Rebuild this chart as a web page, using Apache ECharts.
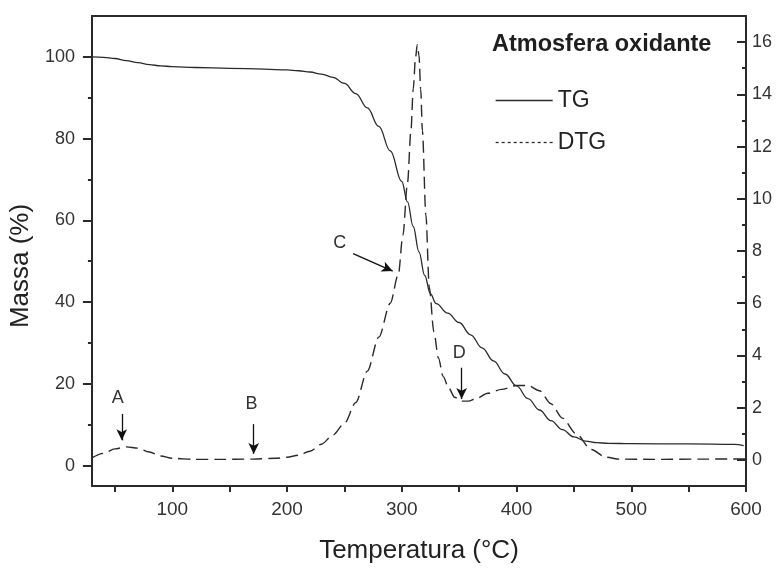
<!DOCTYPE html>
<html>
<head>
<meta charset="utf-8">
<script src="https://cdn.jsdelivr.net/npm/echarts@6/dist/echarts.min.js"></script>
<style>
html,body{margin:0;padding:0;background:#fff;}
#chart{width:777px;height:569px;}
</style>
</head>
<body>
<div id="chart"></div>
<script>
// Temperature (°C) and mass (%) for TG
const tgTemp = [30,40,50,60,70,80,90,100,120,150,180,200,210,220,230,240,250,260,270,280,290,300,305,310,315,320,325,330,340,350,360,370,380,390,400,410,420,430,440,450,460,470,480,500,550,590,598];
const tgMass = [100,99.9,99.6,99.1,98.6,98.1,97.8,97.6,97.4,97.2,97.0,96.8,96.6,96.3,95.8,95.0,93.5,91.0,87.5,83.0,77.0,69.5,64.5,58.5,52.3,46.5,42.0,39.6,37.3,35.0,32.0,28.8,25.6,22.4,19.5,16.4,13.6,11.0,8.8,7.0,6.0,5.6,5.45,5.35,5.3,5.2,4.9];
// Temperature (°C) and DTG values (right axis)
const dtgTemp = [30,40,50,60,70,80,90,100,120,140,170,190,200,210,220,230,240,250,260,270,280,290,297,301,305,308,310,312,313.5,315,316.5,318,321,324,328,332,336,341,346,352,358,365,375,387,400,410,420,430,440,452,465,478,490,520,560,600];
const dtgVal = [0.08,0.25,0.42,0.5,0.45,0.3,0.15,0.06,0.02,0.02,0.03,0.06,0.1,0.18,0.33,0.6,0.95,1.4,2.2,3.4,4.7,6.0,7.1,8.6,10.6,12.6,14.2,15.4,15.9,15.5,14.2,12.6,9.4,6.6,4.9,3.9,3.2,2.75,2.4,2.25,2.25,2.35,2.55,2.7,2.85,2.85,2.65,2.15,1.6,1.0,0.4,0.1,0.03,0.02,0.03,0.04];
// Tick labels
const xLabels = [100,200,300,400,500,600];
const xTicks = [50,100,150,200,250,300,350,400,450,500,550,600];
const yLeftLabels = [0,20,40,60,80,100];
const yLeftMinor = [10,30,50,70,90];
const yRightLabels = [0,2,4,6,8,10,12,14,16];
const yRightMinor = [1,3,5,7,9,11,13,15];
// Annotations: [label, labelT, labelD, fromT, fromD, toT, toD]
const annotations = [
  ['A', 52.5, 2.35, 56, 1.76, 56, 0.75],
  ['B', 169, 2.15, 171, 1.37, 171, 0.23],
  ['C', 246, 8.3, 257.6, 7.9, 292.1, 7.23],
  ['D', 350, 4.1, 352.2, 3.53, 352.2, 2.33]
];

const tgData = tgTemp.map((t,i)=>[t,tgMass[i]]);
const dtgData = dtgTemp.map((t,i)=>[t,dtgVal[i]]);

const ink = '#2a2a2a';
const txt = '#333';
const font = 'Liberation Sans, Arial, sans-serif';
const hidden = {color:'rgba(0,0,0,0)', borderWidth:0, opacity:0};

const chart = echarts.init(document.getElementById('chart'), null, {renderer:'canvas'});
chart.setOption({
  backgroundColor:'#fff',
  animation:false,
  color:[ink, ink],
  title:{
    text:'Atmosfera oxidante', left:487, top:28,
    textStyle:{fontFamily:font, fontWeight:'bold', fontSize:23.5, color:'#1e1e1e'}
  },
  legend:{
    orient:'vertical', left:490, top:84, itemWidth:57, itemHeight:14, itemGap:19,
    textStyle:{fontFamily:font, fontSize:23, color:'#222'},
    data:[
      {name:'TG', itemStyle:hidden, lineStyle:{type:'solid', width:1.3, color:ink}},
      {name:'DTG', itemStyle:hidden, lineStyle:{type:[3,3], width:1.3, color:ink}}
    ]
  },
  grid:{left:87, right:31, top:16, bottom:80, containLabel:false},
  xAxis:[{
    type:'value', min:30, max:600, position:'bottom',
    name:'Temperatura (°C)', nameLocation:'middle', nameGap:52,
    nameTextStyle:{fontFamily:font, fontSize:26, color:'#222'},
    axisLine:{show:true, onZero:false, lineStyle:{color:ink, width:2}},
    axisTick:{show:true, inside:false, length:6, customValues:xTicks, lineStyle:{color:ink, width:2}},
    axisLabel:{customValues:xLabels, margin:14, fontFamily:font, fontSize:19, color:txt},
    splitLine:{show:false}
  },{
    type:'value', min:30, max:600, position:'top',
    axisLine:{show:true, onZero:false, lineStyle:{color:ink, width:2}},
    axisTick:{show:false}, axisLabel:{show:false}, splitLine:{show:false}
  }],
  yAxis:[{
    type:'value', min:-5, max:110, position:'left',
    name:'Massa (%)', nameLocation:'middle', nameGap:51, nameRotate:90,
    nameTextStyle:{fontFamily:font, fontSize:26, color:'#222', padding:[0,30,0,0]},
    axisLine:{show:true, onZero:false, lineStyle:{color:ink, width:2}},
    axisTick:{show:true, inside:false, length:9, customValues:yLeftLabels, lineStyle:{color:ink, width:2}},
    axisLabel:{customValues:yLeftLabels, margin:17, fontFamily:font, fontSize:18, color:txt},
    splitLine:{show:false}
  },{
    type:'value', min:-1, max:17, position:'right',
    axisLine:{show:true, onZero:false, lineStyle:{color:ink, width:2}},
    axisTick:{show:true, inside:true, length:9, customValues:yRightLabels, lineStyle:{color:ink, width:2}},
    axisLabel:{customValues:yRightLabels, margin:6, fontFamily:font, fontSize:18, color:txt},
    splitLine:{show:false}
  },{
    type:'value', min:-5, max:110, position:'left',
    axisLine:{show:false},
    axisTick:{show:true, inside:false, length:4, customValues:yLeftMinor, lineStyle:{color:ink, width:2}},
    axisLabel:{show:false}, splitLine:{show:false}
  },{
    type:'value', min:-1, max:17, position:'right',
    axisLine:{show:false},
    axisTick:{show:true, inside:true, length:4, customValues:yRightMinor, lineStyle:{color:ink, width:2}},
    axisLabel:{show:false}, splitLine:{show:false}
  }],
  series:[{
    name:'TG', type:'line', xAxisIndex:0, yAxisIndex:0, data:tgData,
    symbol:'none', smooth:0.4, smoothMonotone:'x',
    itemStyle:{color:ink},
    lineStyle:{color:ink, width:1.3, type:'solid'}
  },{
    name:'DTG', type:'line', xAxisIndex:0, yAxisIndex:1, data:dtgData,
    symbol:'none', smooth:0.3, smoothMonotone:'x',
    itemStyle:{color:ink},
    lineStyle:{color:ink, width:1.4, type:[12,6]},
    markLine:{
      silent:true, symbol:['none','arrow'], symbolSize:[8,11],
      lineStyle:{color:'#111', width:1.3, type:'solid'},
      label:{show:false},
      data: annotations.map(a=>[{coord:[a[3],a[4]]},{coord:[a[5],a[6]]}])
    },
    markPoint:{
      silent:true, symbol:'circle', symbolSize:0,
      label:{show:true, fontFamily:font, fontSize:18, color:'#333', formatter:'{b}'},
      data: annotations.map(a=>({name:a[0], coord:[a[1],a[2]]}))
    }
  }]
});
</script>
</body>
</html>
